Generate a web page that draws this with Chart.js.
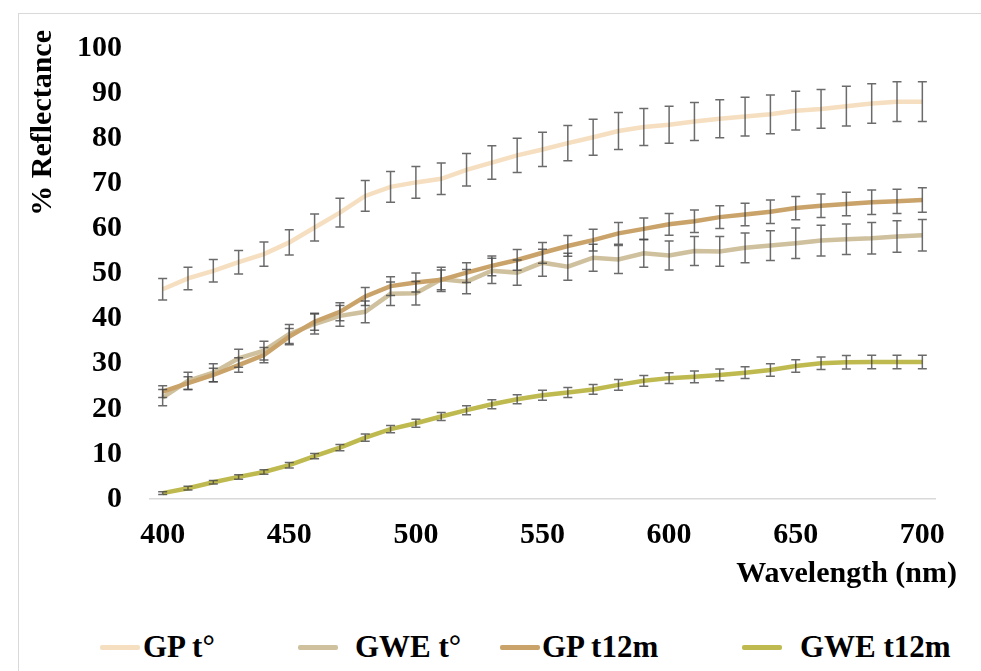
<!DOCTYPE html>
<html>
<head>
<meta charset="utf-8">
<script src="https://cdn.jsdelivr.net/npm/chart.js@4"></script>
<style>
  body { margin: 0; background: #fff; }
  #wrap { position: relative; width: 981px; height: 671px; overflow: hidden; }
  #frame { position: absolute; left: 18px; top: 13px; width: 1000px; height: 700px;
           border-left: 1px solid #d9d9d9; border-top: 1px solid #d9d9d9; }
  #box { position: absolute; left: 0; top: 0; width: 981px; height: 600px; }
  #legend { position: absolute; left: 0; top: 631px; width: 981px; height: 40px; }
  .swatch { position: absolute; top: 14px; width: 40px; height: 4.5px; border-radius: 2px; }
  .lbl { position: absolute; top: 0; font: bold 31px/31px "Liberation Serif", "Times New Roman", serif;
         color: #000; white-space: nowrap; }
</style>
</head>
<body>
<div id="wrap">
  <div id="frame"></div>
  <div id="box"><canvas id="reflectanceChart"></canvas></div>
  <div id="legend"></div>
</div>
<script>
var wavelengths = [400, 410, 420, 430, 440, 450, 460, 470, 480, 490, 500, 510, 520, 530, 540, 550,
                   560, 570, 580, 590, 600, 610, 620, 630, 640, 650, 660, 670, 680, 690, 700];

var seriesNames = ['GP t°', 'GWE t°', 'GP t12m', 'GWE t12m'];

var gpT0 = [46.5, 48.9, 50.6, 52.5, 54.3, 56.9, 60.2, 63.5, 67.2, 69.2, 70.2, 71.0, 73.0, 74.6, 76.2, 77.5,
            78.9, 80.2, 81.6, 82.5, 83.0, 83.7, 84.3, 84.8, 85.3, 86.1, 86.5, 87.1, 87.7, 88.1, 88.1];
var gpT0Err = [2.4, 2.5, 2.5, 2.6, 2.7, 2.8, 3.0, 3.2, 3.4, 3.4, 3.5, 3.5, 3.6, 3.7, 3.8, 3.8,
               3.9, 4.0, 4.1, 4.1, 4.1, 4.2, 4.2, 4.3, 4.3, 4.3, 4.3, 4.4, 4.4, 4.4, 4.4];

var gweT0 = [22.5, 26.2, 28.0, 31.2, 32.9, 36.6, 38.8, 40.6, 41.5, 45.5, 45.6, 48.7, 48.2, 50.6, 50.2, 52.4,
             51.5, 53.5, 53.1, 54.5, 54.0, 55.0, 54.9, 55.7, 56.2, 56.7, 57.3, 57.6, 57.8, 58.2, 58.5];
var gweT0Err = [1.8, 1.9, 2.0, 2.0, 2.1, 2.1, 2.2, 2.3, 2.4, 2.6, 2.6, 2.7, 2.7, 2.8, 2.8, 3.0,
                3.0, 3.0, 3.1, 3.1, 3.2, 3.2, 3.3, 3.3, 3.3, 3.4, 3.4, 3.4, 3.5, 3.5, 3.5];

var gpT12 = [23.8, 25.7, 27.5, 29.7, 31.9, 36.0, 39.3, 41.5, 44.9, 47.2, 48.0, 48.6, 50.2, 51.7, 53.0, 54.6,
             56.1, 57.4, 58.9, 59.9, 60.9, 61.6, 62.5, 63.1, 63.7, 64.5, 65.0, 65.4, 65.8, 66.0, 66.3];
var gpT12Err = [1.3, 1.4, 1.5, 1.6, 1.7, 1.8, 1.9, 2.0, 2.0, 2.1, 2.1, 2.2, 2.2, 2.2, 2.3, 2.3,
                2.3, 2.4, 2.4, 2.4, 2.4, 2.5, 2.5, 2.5, 2.6, 2.6, 2.6, 2.6, 2.7, 2.7, 2.7];

var gweT12 = [1.3, 2.4, 3.7, 4.9, 6.0, 7.5, 9.5, 11.4, 13.6, 15.5, 16.8, 18.3, 19.7, 21.0, 22.1, 23.0,
              23.6, 24.3, 25.3, 26.2, 26.8, 27.1, 27.5, 28.0, 28.6, 29.5, 30.1, 30.3, 30.4, 30.4, 30.4];
var gweT12Err = [0.3, 0.4, 0.4, 0.5, 0.5, 0.6, 0.6, 0.7, 0.8, 0.8, 0.9, 0.9, 1.0, 1.0, 1.0, 1.1,
                 1.1, 1.1, 1.2, 1.2, 1.2, 1.3, 1.3, 1.3, 1.4, 1.4, 1.4, 1.5, 1.5, 1.5, 1.5];

var yTicks = [0, 10, 20, 30, 40, 50, 60, 70, 80, 90, 100];
var xTitle = 'Wavelength (nm)';
var yTitle = '% Reflectance';

var colors = ['#f5dfc0', '#cfc09e', '#c9a36a', '#bfba4f'];
var serif = '"Liberation Serif", "Times New Roman", serif';

// error bars drawn on top of the lines, through the chart's scales
var errorBars = {
    id: 'errorBars',
    afterDatasetsDraw: function(chart) {
        var ctx = chart.ctx;
        var yScale = chart.scales.y;
        ctx.save();
        ctx.strokeStyle = 'rgba(70,70,70,0.8)';
        ctx.lineWidth = 1.5;
        chart.data.datasets.forEach(function(ds, i) {
            var meta = chart.getDatasetMeta(i);
            meta.data.forEach(function(pt, j) {
                var v = ds.data[j], e = ds.errors[j];
                var top = yScale.getPixelForValue(v + e);
                var bot = yScale.getPixelForValue(v - e);
                ctx.beginPath();
                ctx.moveTo(pt.x, top); ctx.lineTo(pt.x, bot);
                ctx.moveTo(pt.x - 4.5, top); ctx.lineTo(pt.x + 4.5, top);
                ctx.moveTo(pt.x - 4.5, bot); ctx.lineTo(pt.x + 4.5, bot);
                ctx.stroke();
            });
        });
        ctx.restore();
    }
};

// axis titles sit outside the plot edges like in the original figure
var axisTitles = {
    id: 'axisTitles',
    afterDraw: function(chart) {
        var ctx = chart.ctx;
        var area = chart.chartArea;
        ctx.save();
        ctx.fillStyle = '#000';
        ctx.font = 'bold 30px ' + serif;
        ctx.textAlign = 'right';
        ctx.textBaseline = 'middle';
        ctx.fillText(xTitle, area.right + 22, area.bottom + 75);
        ctx.translate(43, area.top - 18);
        ctx.rotate(-Math.PI / 2);
        ctx.fillText(yTitle, 0, 0);
        ctx.restore();
    }
};

function makeSet(i, data, errs, order) {
    return {
        label: seriesNames[i],
        data: data,
        errors: errs,
        borderColor: colors[i],
        backgroundColor: colors[i],
        borderWidth: 4.5,
        pointRadius: 0,
        tension: 0,
        fill: false,
        order: order
    };
}

var ctx = document.getElementById('reflectanceChart').getContext('2d');
var reflectanceChart = new Chart(ctx, {
    type: 'line',
    data: {
        labels: wavelengths,
        datasets: [
            makeSet(0, gpT0, gpT0Err, 3),
            makeSet(1, gweT0, gweT0Err, 2),
            makeSet(2, gpT12, gpT12Err, 1),
            makeSet(3, gweT12, gweT12Err, 0)
        ]
    },
    options: {
        responsive: true,
        maintainAspectRatio: false,
        animation: false,
        layout: { padding: { left: 20, top: 48, right: 46, bottom: 1 } },
        plugins: {
            legend: { display: false },
            tooltip: { enabled: false }
        },
        scales: {
            x: {
                type: 'category',
                offset: true,
                afterFit: function(s) { s.height = 100; },
                grid: { display: true, drawOnChartArea: false, drawTicks: false },
                border: { display: true, color: '#d9d9d9', width: 1.5 },
                ticks: {
                    autoSkip: false,
                    maxRotation: 0,
                    padding: 18,
                    color: '#000',
                    font: { family: serif, size: 30, weight: 'bold' },
                    callback: function(val, idx) {
                        return idx % 5 === 0 ? wavelengths[idx] : '';
                    }
                }
            },
            y: {
                min: yTicks[0],
                max: yTicks[yTicks.length - 1],
                afterFit: function(s) { s.width = 130; },
                afterBuildTicks: function(s) {
                    s.ticks = yTicks.map(function(v) { return { value: v }; });
                },
                grid: { display: false, drawTicks: false },
                border: { display: false },
                ticks: {
                    padding: 28,
                    color: '#000',
                    font: { family: serif, size: 30, weight: 'bold' }
                }
            }
        }
    },
    plugins: [errorBars, axisTitles]
});

// legend placed like the original (uneven gaps)
var legendLine = [100, 298, 500, 742];
var legendText = [143, 355, 542, 800];
var legend = document.getElementById('legend');
seriesNames.forEach(function(name, i) {
    var sw = document.createElement('div');
    sw.className = 'swatch';
    sw.style.left = legendLine[i] + 'px';
    sw.style.background = colors[i];
    legend.appendChild(sw);
    var t = document.createElement('div');
    t.className = 'lbl';
    t.style.left = legendText[i] + 'px';
    t.textContent = name;
    legend.appendChild(t);
});
</script>
</body>
</html>
